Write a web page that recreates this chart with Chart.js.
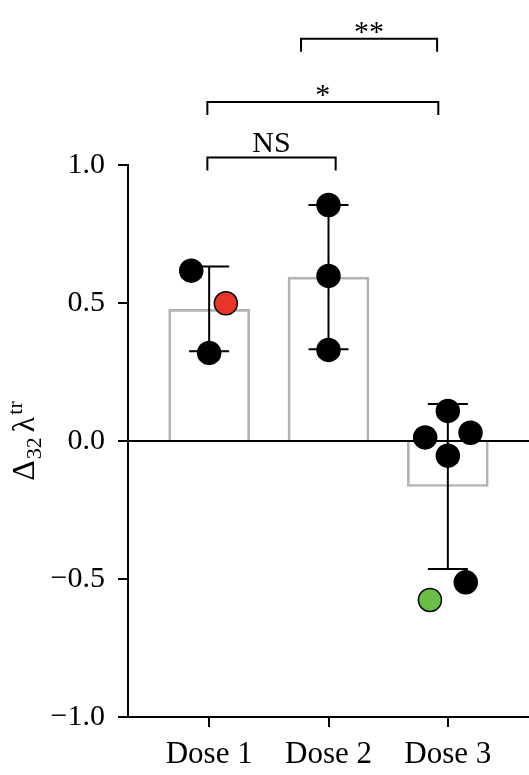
<!DOCTYPE html>
<html>
<head>
<meta charset="utf-8">
<script src="https://cdn.jsdelivr.net/npm/chart.js@4"></script>
<style>
  body { margin: 0; background: #fff; }
  canvas { display: block; }
</style>
</head>
<body>
<canvas id="chart" width="529" height="775"></canvas>
<script>
// groups on the x axis
const categories = ["Dose 1", "Dose 2", "Dose 3"];

// bar heights (group means) and error bar ends
const barMeans = [0.477, 0.594, -0.165];
const errHigh = [0.632, 0.855, 0.134];
const errLow = [0.325, 0.332, -0.464];

// single measurements per group
const dose1 = [0.617, 0.319, 0.499];
const dose2 = [0.855, 0.598, 0.330];
const dose3 = [0.109, 0.013, 0.030, -0.053, -0.512, -0.576];

// y axis ticks
const yTickValues = [-1.0, -0.5, 0.0, 0.5, 1.0];
const yTickLabels = ["\u22121.0", "\u22120.5", "0.0", "0.5", "1.0"];

// significance brackets (ends in group units, level in y units)
const bracketStart = [0.985, 0.985, 1.77];
const bracketEnd = [2.06, 2.92, 2.91];
const bracketLevel = [1.027, 1.228, 1.457];
const bracketLabels = ["NS", "*", "**"];

// ---- drawing ----

// sideways spread of the dots inside each group
const jitter = [
    [-0.15, 0, 0.14],
    [0, 0, 0],
    [0, -0.19, 0.19, 0, 0.15, -0.15]
];
const dotColors = [
    ["#000", "#000", "#e8352a"],
    ["#000", "#000", "#000"],
    ["#000", "#000", "#000", "#000", "#000", "#6abd45"]
];

let points = [];
let pointFill = [];
[dose1, dose2, dose3].forEach((vals, g) => {
    vals.forEach((v, i) => {
        points.push({ x: g + 1 + jitter[g][i], y: v });
        pointFill.push(dotColors[g][i]);
    });
});

Chart.defaults.font.family = "'Liberation Serif', serif";
Chart.defaults.color = "#000";

// error bars go over the bars but under the dots
const errorBars = {
    id: "errorBars",
    afterDatasetDraw(chart, args) {
        if (args.meta.type !== "bar") return;
        const ctx = chart.ctx, xs = chart.scales.x, ys = chart.scales.y;
        ctx.save();
        ctx.strokeStyle = "#000";
        ctx.lineWidth = 2;
        for (let i = 0; i < categories.length; i++) {
            let x = xs.getPixelForValue(i + 1);
            let top = ys.getPixelForValue(errHigh[i]);
            let bot = ys.getPixelForValue(errLow[i]);
            ctx.beginPath();
            ctx.moveTo(x, top); ctx.lineTo(x, bot);
            ctx.moveTo(x - 20, top); ctx.lineTo(x + 20, top);
            ctx.moveTo(x - 20, bot); ctx.lineTo(x + 20, bot);
            ctx.stroke();
        }
        ctx.restore();
    }
};

const brackets = {
    id: "brackets",
    afterDraw(chart) {
        const ctx = chart.ctx, xs = chart.scales.x, ys = chart.scales.y;
        ctx.save();
        ctx.strokeStyle = "#000";
        ctx.fillStyle = "#000";
        ctx.lineWidth = 2;
        ctx.font = "30px 'Liberation Serif'";
        ctx.textAlign = "center";
        ctx.textBaseline = "alphabetic";
        bracketLabels.forEach((label, i) => {
            let x1 = xs.getPixelForValue(bracketStart[i]);
            let x2 = xs.getPixelForValue(bracketEnd[i]);
            let y = ys.getPixelForValue(bracketLevel[i]);
            ctx.beginPath();
            ctx.moveTo(x1, y + 13); ctx.lineTo(x1, y); ctx.lineTo(x2, y); ctx.lineTo(x2, y + 13);
            ctx.stroke();
            let m = ctx.measureText(label);
            ctx.fillText(label, (x1 + x2) / 2, y - 6 - m.actualBoundingBoxDescent);
        });
        ctx.restore();
    }
};

// y title with subscript and superscript
const yTitle = {
    id: "yTitle",
    afterDraw(chart) {
        const ctx = chart.ctx;
        const parts = [
            { t: "\u0394", size: 32, shift: 0, gap: 0 },
            { t: "32", size: 22, shift: 7, gap: 1 },
            { t: "\u03bb", size: 32, shift: 0, gap: 5 },
            { t: "tr", size: 22, shift: -12, gap: 2 }
        ];
        ctx.save();
        ctx.fillStyle = "#000";
        ctx.textBaseline = "alphabetic";
        ctx.textAlign = "left";
        let total = 0;
        parts.forEach(p => {
            ctx.font = p.size + "px 'Liberation Serif'";
            p.w = ctx.measureText(p.t).width;
            total += p.gap + p.w;
        });
        ctx.translate(34, 441);
        ctx.rotate(-Math.PI / 2);
        let x = -total / 2;
        parts.forEach(p => {
            x += p.gap;
            ctx.font = p.size + "px 'Liberation Serif'";
            ctx.fillText(p.t, x, p.shift);
            x += p.w;
        });
        ctx.restore();
    }
};

new Chart(document.getElementById("chart"), {
    type: "bar",
    data: {
        datasets: [
            {
                type: "scatter",
                data: points,
                order: 1,
                pointRadius: 11.5,
                pointHoverRadius: 11.5,
                pointBackgroundColor: pointFill,
                pointBorderColor: "#000",
                pointBorderWidth: 1.5
            },
            {
                type: "bar",
                data: categories.map((c, i) => ({ x: i + 1, y: barMeans[i] })),
                order: 2,
                backgroundColor: "rgba(255,255,255,0)",
                borderColor: "#b3b3b3",
                borderWidth: 2,
                barThickness: 81
            }
        ]
    },
    options: {
        responsive: false,
        animation: false,
        devicePixelRatio: 1,
        layout: { autoPadding: false, padding: { top: 165, right: 0, bottom: 0, left: 0 } },
        plugins: { legend: { display: false }, tooltip: { enabled: false } },
        scales: {
            x: {
                type: "linear",
                min: 0.32,
                max: 3.68,
                offset: false,
                afterBuildTicks: s => { s.ticks = categories.map((c, i) => ({ value: i + 1 })); },
                afterFit: s => { s.height = 58; },
                ticks: {
                    callback: v => categories[v - 1],
                    padding: 9,
                    autoSkip: false,
                    maxRotation: 0,
                    font: { size: 31 }
                },
                grid: { offset: false, drawOnChartArea: false, tickLength: 10, tickColor: "#000", lineWidth: 2 },
                border: { color: "#000", width: 2 }
            },
            y: {
                min: -1,
                max: 1,
                afterBuildTicks: s => { s.ticks = yTickValues.map(v => ({ value: v })); },
                afterFit: s => { s.width = 128; },
                ticks: {
                    callback: (v, i) => yTickLabels[i],
                    padding: 13,
                    font: { size: 30 }
                },
                grid: {
                    color: c => (c.tick && c.tick.value === 0) ? "#000" : "rgba(0,0,0,0)",
                    tickColor: "#000",
                    lineWidth: 2,
                    tickLength: 10
                },
                border: { color: "#000", width: 2 }
            }
        }
    },
    plugins: [errorBars, brackets, yTitle]
});
</script>
</body>
</html>
